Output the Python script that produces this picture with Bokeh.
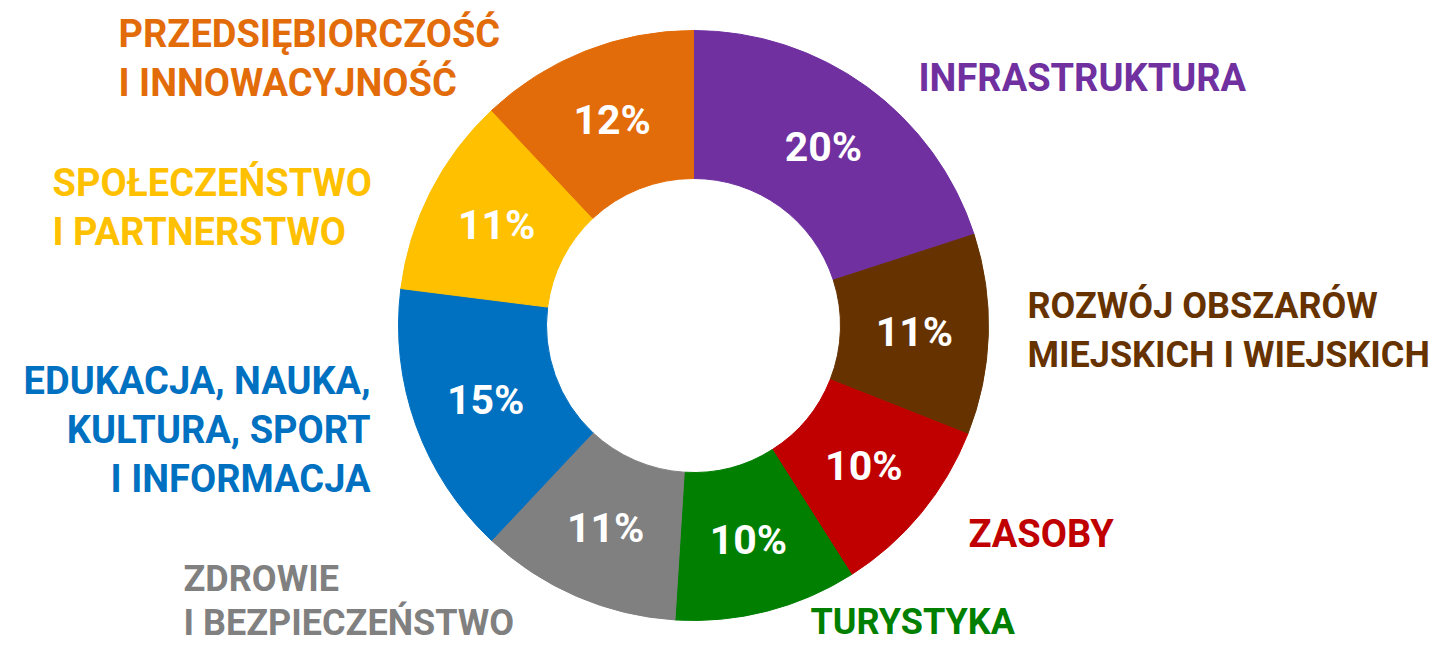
import math
from bokeh.plotting import figure
from bokeh.models import Range1d, ColumnDataSource
from bokeh.core.properties import value
from bokeh.embed import file_html
from bokeh.resources import INLINE

# ---- data ----
categories = [
    "INFRASTRUKTURA",
    "ROZWÓJ OBSZARÓW\nMIEJSKICH I WIEJSKICH",
    "ZASOBY",
    "TURYSTYKA",
    "ZDROWIE\nI BEZPIECZEŃSTWO",
    "EDUKACJA, NAUKA,\nKULTURA, SPORT\nI INFORMACJA",
    "SPOŁECZEŃSTWO\nI PARTNERSTWO",
    "PRZEDSIĘBIORCZOŚĆ\nI INNOWACYJNOŚĆ",
]
shares = [20, 11, 10, 10, 11, 15, 11, 12]
colors = ["#7030A0", "#663300", "#C00000", "#007F00", "#808080", "#0070C0", "#FFC000", "#E36C0A"]

# ---- layout (picture pixel coords) ----
W, H = 1435, 642
def X(ix): return ix
def Y(iy): return H - iy

cx, cy = X(693), Y(325)
r_out, r_in = 295, 147
r_lab = (r_out + r_in) / 2

# category label anchors: (x, y of first line centre, align, font size, line gap)
label_pos = [
    (918, 77, "left", 38, 49),
    (1027, 305, "left", 36, 49),
    (968, 533, "left", 38, 49),
    (810, 621, "left", 36, 49),
    (183, 578, "left", 36, 44),
    (370, 380, "right", 38, 49),
    (52, 182, "left", 38, 49),
    (118, 33, "left", 38, 49),
]
FONT = value("Roboto")

p = figure(width=W, height=H, x_range=Range1d(0, W), y_range=Range1d(0, H),
           output_backend="svg", toolbar_location=None, min_border=0,
           background_fill_color="white", border_fill_color="white")
p.axis.visible = False
p.grid.visible = False
p.outline_line_color = None

total = sum(shares)
starts, ends, mids = [], [], []
acc = 0
for s in shares:
    a0 = math.pi / 2 - 2 * math.pi * acc / total
    acc += s
    a1 = math.pi / 2 - 2 * math.pi * acc / total
    starts.append(a0); ends.append(a1); mids.append((a0 + a1) / 2)

src = ColumnDataSource(dict(start=starts, end=ends, color=colors))
p.annular_wedge(x=cx, y=cy, inner_radius=r_in, outer_radius=r_out,
                start_angle="start", end_angle="end", direction="clock",
                fill_color="color", line_color="color", line_width=1, source=src)

# percentage labels
px = [cx + r_lab * math.cos(m) for m in mids]
py = [cy + r_lab * math.sin(m) for m in mids]
p.text(x=px, y=py, text=[f"{s}%" for s in shares], text_color="white",
       text_font=FONT, text_font_style="bold", text_font_size="41px",
       text_align="center", text_baseline="middle")

# category labels
lx, ly, lt, lc, la, lf = [], [], [], [], [], []
for cat, col, (ix, iy, al, fs, gap) in zip(categories, colors, label_pos):
    for k, line in enumerate(cat.split("\n")):
        lx.append(X(ix)); ly.append(Y(iy + k * gap))
        lt.append(line); lc.append(col); la.append(al); lf.append(f"{fs}px")
lsrc = ColumnDataSource(dict(x=lx, y=ly, text=lt, color=lc, align=la, size=lf))
p.text(x="x", y="y", text="text", text_color="color", text_align="align",
       text_font=FONT, text_font_style="bold", text_font_size="size",
       text_baseline="middle", source=lsrc)

open("out.html", "w").write(file_html(p, INLINE))
